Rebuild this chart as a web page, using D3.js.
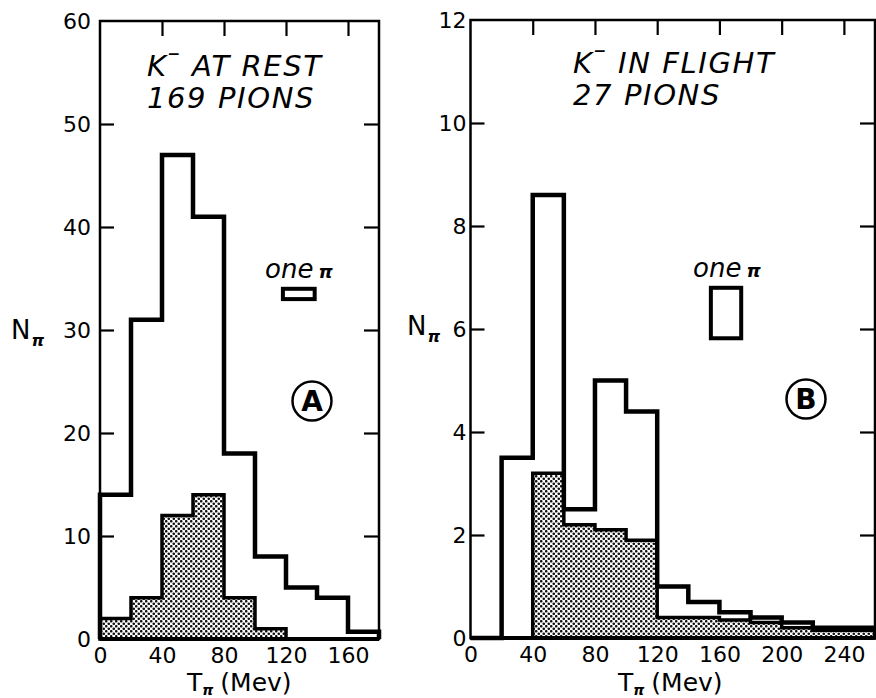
<!DOCTYPE html>
<html><head><meta charset="utf-8">
<script src="https://cdn.jsdelivr.net/npm/d3@7"></script>
<style>body{margin:0;background:#fff} svg{display:block}</style></head>
<body>
<svg id="c" width="876" height="698"></svg>
<script>
// ---- data ----
const binsA   = [0,20,40,60,80,100,120,140,160,180];
const totalA  = [14,31,47,41,18,8,5,4,0.7];
const shadedA = [2,4,12,14,4,1,0,0,0];
const binsB   = [0,20,40,60,80,100,120,140,160,180,200,220,240,260];
const totalB  = [0,3.5,8.6,2.5,5.0,4.4,1.0,0.7,0.5,0.4,0.3,0.2,0.2];
const shadedB = [0,0,3.2,2.2,2.1,1.9,0.4,0.4,0.35,0.3,0.2,0.15,0.15];
const yTicksA = [0,10,20,30,40,50,60];
const yTicksB = [0,2,4,6,8,10,12];
const xTicksA = [0,40,80,120,160];
const xTicksB = [0,40,80,120,160,200,240];
const topTicksA = [40,80,120,160];
const topTicksB = [40,80,120,160,200,240];
const sideTicksA = [10,20,30,40,50];
const sideTicksB = [2,4,6,8,10];
const titleA = ["AT REST","169 PIONS"];
const titleB = ["IN FLIGHT","27 PIONS"];
const onePiA = {x0:118, x1:138.5, y0:33, y1:34};
const onePiB = {x0:154.5, x1:174, y0:5.82, y1:6.8};
const panelLetter = ["A","B"];

const svg = d3.select("#c");
const FONT = "DejaVu Sans, Liberation Sans, Arial, sans-serif";

const defs = svg.append("defs");
const pat = defs.append("pattern").attr("id","dots").attr("width",5).attr("height",5)
  .attr("patternUnits","userSpaceOnUse");
pat.append("rect").attr("width",5).attr("height",5).attr("fill","#fff");
pat.append("circle").attr("cx",1.25).attr("cy",1.25).attr("r",1.3).attr("fill","#111");
pat.append("circle").attr("cx",3.75).attr("cy",3.75).attr("r",1.3).attr("fill","#111");

function panel(cfg){
  const x = d3.scaleLinear().domain(cfg.xDomain).range(cfg.xRange);
  const y = d3.scaleLinear().domain(cfg.yDomain).range(cfg.yRange);
  const g = svg.append("g");
  const [xl,xr] = cfg.xRange, [yb,yt] = cfg.yRange;

  function stepPts(edges, vals){
    const pts = [[edges[0],0]];
    vals.forEach((v,i)=>{ pts.push([edges[i],v]); pts.push([edges[i+1],v]); });
    pts.push([edges[edges.length-1],0]);
    return pts;
  }
  const line = d3.line().x(d=>x(d[0])).y(d=>y(d[1]));

  g.append("path").attr("d", line(stepPts(cfg.edges, cfg.shaded)) + "Z")
    .attr("fill","url(#dots)").attr("stroke","#000").attr("stroke-width",3.5)
    .attr("stroke-linejoin","miter");
  g.append("path").attr("d", line(stepPts(cfg.edges, cfg.total)))
    .attr("fill","none").attr("stroke","#000").attr("stroke-width",4.5)
    .attr("stroke-linejoin","miter");

  g.append("rect").attr("x",xl).attr("y",yt).attr("width",xr-xl).attr("height",yb-yt)
    .attr("fill","none").attr("stroke","#000").attr("stroke-width",2.5);
  g.append("line").attr("x1",xl).attr("x2",xr).attr("y1",yb).attr("y2",yb)
    .attr("stroke","#000").attr("stroke-width",4);

  const ax = (sel)=>{ sel.select(".domain").remove();
    sel.selectAll("line").attr("stroke","#000").attr("stroke-width",2.2);
    sel.selectAll("text").attr("font-family",FONT).attr("font-size",22).attr("fill","#000"); };
  g.append("g").attr("transform",`translate(${xl},0)`)
    .call(d3.axisLeft(y).tickValues(cfg.yTicks).tickSize(-14).tickPadding(cfg.yPad).tickFormat(d3.format("d")))
    .call(ax).call(s=>s.selectAll(".tick").filter(d=>d===0||d===cfg.yDomain[1]).select("line").remove());
  g.append("g").attr("transform",`translate(${xr},0)`)
    .call(d3.axisRight(y).tickValues(cfg.sideTicks).tickSize(-15).tickFormat(""))
    .call(ax);
  g.append("g").attr("transform",`translate(0,${yt})`)
    .call(d3.axisTop(x).tickValues(cfg.topTicks).tickSize(-15).tickFormat(""))
    .call(ax);
  g.append("g").attr("transform",`translate(0,${yb})`)
    .call(d3.axisBottom(x).tickValues(cfg.xTicks).tickSize(0).tickPadding(8).tickFormat(d3.format("d")))
    .call(ax);

  // title
  const t = g.append("text").attr("font-family",FONT).attr("font-style","italic")
    .attr("font-size",29).attr("letter-spacing",1.6).attr("x",cfg.titleX).attr("y",cfg.titleY).attr("fill","#000");
  t.append("tspan").text("K");
  t.append("tspan").attr("dy",-15).attr("font-size",24).text("\u2013");
  t.append("tspan").attr("dy",15).text(" " + cfg.title[0]);
  g.append("text").attr("font-family",FONT).attr("font-style","italic")
    .attr("font-size",29).attr("letter-spacing",1.6).attr("x",cfg.titleX).attr("y",cfg.titleY+32).text(cfg.title[1]);

  // one pi legend
  const o = cfg.onePi;
  g.append("rect").attr("x",x(o.x0)).attr("y",y(o.y1))
    .attr("width",x(o.x1)-x(o.x0)).attr("height",y(o.y0)-y(o.y1))
    .attr("fill","none").attr("stroke","#000").attr("stroke-width",4);
  const ot = g.append("text").attr("font-family",FONT).attr("font-style","italic")
    .attr("font-size",26).attr("x",cfg.oneX).attr("y",cfg.oneY);
  ot.append("tspan").text("one");
  ot.append("tspan").attr("dx",5).attr("font-size",18).attr("font-weight","bold").text("\u03c0");

  // circled letter
  g.append("circle").attr("cx",cfg.circ[0]).attr("cy",cfg.circ[1]).attr("r",19.5)
    .attr("fill","none").attr("stroke","#000").attr("stroke-width",2.5);
  g.append("text").attr("x",cfg.circ[0]).attr("y",cfg.circ[1]+10).attr("text-anchor","middle")
    .attr("font-family",FONT).attr("font-size",28).attr("font-weight","bold").text(cfg.letter);

  // y label N_pi
  const yl = g.append("text").attr("font-family",FONT).attr("font-size",26)
    .attr("x",cfg.nX).attr("y",cfg.nY);
  yl.append("tspan").text("N");
  yl.append("tspan").attr("dy",7).attr("dx",1).attr("font-size",16).attr("font-style","italic")
    .attr("font-weight","bold").text("\u03c0");

  // x label T_pi (Mev)
  const xlab = g.append("text").attr("font-family",FONT).attr("font-size",25)
    .attr("x",cfg.tX).attr("y",691);
  xlab.append("tspan").text("T");
  xlab.append("tspan").attr("dy",4).attr("font-size",14).attr("font-style","italic")
    .attr("font-weight","bold").text("\u03c0");
  xlab.append("tspan").attr("dy",-4).attr("dx",7).text("(Mev)");
}

panel({xDomain:[0,180], xRange:[100,379], yDomain:[0,60], yRange:[639,21],
  edges:binsA, total:totalA, shaded:shadedA, yTicks:yTicksA, xTicks:xTicksA,
  topTicks:topTicksA, sideTicks:sideTicksA, yPad:9,
  title:titleA, titleX:147, titleY:76, onePi:onePiA, oneX:265, oneY:278,
  circ:[312,401], letter:panelLetter[0], nX:11, nY:339, tX:187});

panel({xDomain:[0,260], xRange:[470.5,875], yDomain:[0,12], yRange:[638,20],
  edges:binsB, total:totalB, shaded:shadedB, yTicks:yTicksB, xTicks:xTicksB,
  topTicks:topTicksB, sideTicks:sideTicksB, yPad:4,
  title:titleB, titleX:573, titleY:73, onePi:onePiB, oneX:693, oneY:277,
  circ:[806,399], letter:panelLetter[1], nX:407, nY:335, tX:618});
</script>
</body></html>
